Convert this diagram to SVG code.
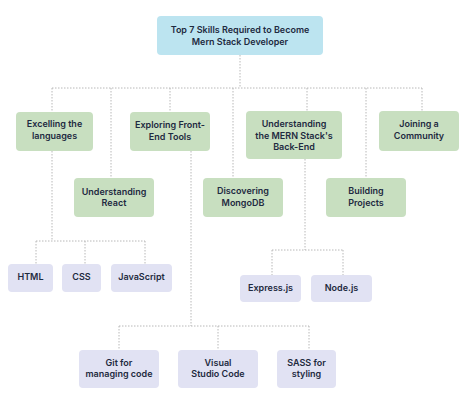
<svg xmlns="http://www.w3.org/2000/svg" width="474" height="405" viewBox="0 0 474 405">
<style>
.bg{fill:#ffffff}
.top{fill:#bce4f0}
.g{fill:#c8dfc0}
.p{fill:#e1e2f3}
text{font-family:Inter,"Noto Sans","Liberation Sans",sans-serif;font-size:9px;font-weight:600;fill:#1e2a40;text-anchor:middle}
.c line,.c path{stroke:#b8b8b8;stroke-width:1;stroke-dasharray:1.5 1.5;fill:none}
</style>
<rect class="bg" width="474" height="405"/>
<g class="c">
<path d="M240 55V88M52 88H422M52 88V112M111 88V178M170 88V112M233 88V178M307 88V111M366 88V178M422 88V111"/>
<path d="M52 151V241M36 241H145M36 241V264M85 241V264M145 241V264"/>
<path d="M191 151V326M119 326H309M119 326V350M218 326V350M309 326V350"/>
<path d="M305 159V250M272 250H343M272 250V275M343 250V275"/>
</g>
<g id="n-top"><rect class="top" x="157" y="16" width="166" height="39" rx="4"/><text x="240" y="33">Top 7 Skills Required to Become</text><text x="240" y="45">Mern Stack Developer</text></g>
<g id="n-excelling"><rect class="g" x="16" y="112" width="77" height="39" rx="4"/><text x="54.5" y="127">Excelling the</text><text x="54.5" y="139">languages</text></g>
<g id="n-exploring"><rect class="g" x="130" y="112" width="80" height="39" rx="4"/><text x="170" y="128">Exploring Front-</text><text x="170" y="140">End Tools</text></g>
<g id="n-mern"><rect class="g" x="246" y="111" width="96" height="48" rx="4"/><text x="294" y="127">Understanding</text><text x="294" y="139">the MERN Stack's</text><text x="294" y="150">Back-End</text></g>
<g id="n-joining"><rect class="g" x="379" y="111" width="80" height="40" rx="4"/><text x="419" y="127">Joining a</text><text x="419" y="139">Community</text></g>
<g id="n-react"><rect class="g" x="74" y="178" width="80" height="39" rx="4"/><text x="114" y="195">Understanding</text><text x="114" y="206">React</text></g>
<g id="n-mongo"><rect class="g" x="203" y="178" width="80" height="39" rx="4"/><text x="243" y="194">Discovering</text><text x="243" y="206">MongoDB</text></g>
<g id="n-building"><rect class="g" x="326" y="178" width="80" height="39" rx="4"/><text x="366" y="194">Building</text><text x="366" y="206">Projects</text></g>
<g id="n-html"><rect class="p" x="8" y="264" width="45" height="28" rx="4"/><text x="30.5" y="280">HTML</text></g>
<g id="n-css"><rect class="p" x="62" y="264" width="39" height="28" rx="4"/><text x="81.5" y="280">CSS</text></g>
<g id="n-js"><rect class="p" x="111" y="264" width="61" height="28" rx="4"/><text x="141.5" y="280">JavaScript</text></g>
<g id="n-express"><rect class="p" x="240" y="275" width="61" height="27" rx="4"/><text x="270.5" y="291">Express.js</text></g>
<g id="n-node"><rect class="p" x="311" y="275" width="61" height="27" rx="4"/><text x="341.5" y="291">Node.js</text></g>
<g id="n-git"><rect class="p" x="79" y="350" width="80" height="38" rx="4"/><text x="119" y="366">Git for</text><text x="119" y="377">managing code</text></g>
<g id="n-vscode"><rect class="p" x="178" y="350" width="80" height="38" rx="4"/><text x="218" y="366">Visual</text><text x="218" y="377">Studio Code</text></g>
<g id="n-sass"><rect class="p" x="277" y="350" width="59" height="38" rx="4"/><text x="306.5" y="366">SASS for</text><text x="306.5" y="377">styling</text></g>
</svg>
